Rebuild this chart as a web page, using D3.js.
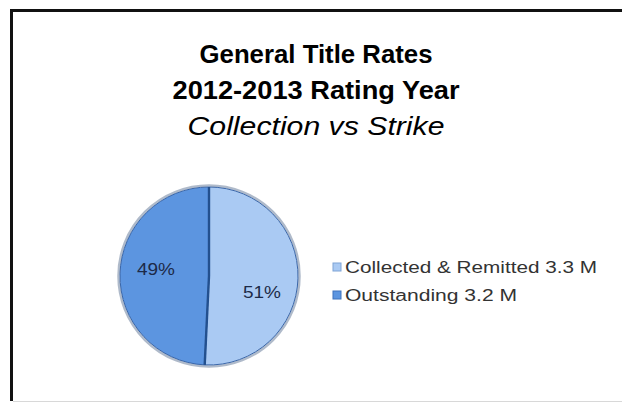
<!DOCTYPE html>
<html>
<head>
<meta charset="utf-8">
<script src="https://cdn.jsdelivr.net/npm/d3@7"></script>
<style>
  html, body { margin: 0; padding: 0; background: #fff; }
  svg { display: block; }
</style>
</head>
<body>
<svg id="chart" width="622" height="405"></svg>
<script>
// Rating-year collection figures (millions)
const categories = ["Collected & Remitted", "Outstanding"];
const amounts = [3.3, 3.2];
const amountLabels = ["3.3 M", "3.2 M"];
const titleLines = ["General Title Rates", "2012-2013 Rating Year"];
const subtitle = "Collection vs Strike";

const FONT = "Liberation Sans, Arial, sans-serif";
const svg = d3.select("#chart");
const W = 622, H = 405;

// frame
svg.append("rect").attr("x", 0).attr("y", 0).attr("width", W).attr("height", H).attr("fill", "#fff");
svg.append("path")
  .attr("d", `M11.5,${H - 4} V10.5 H${W + 2}`)
  .attr("fill", "none").attr("stroke", "#111").attr("stroke-width", 3);
svg.append("line")
  .attr("x1", 13).attr("x2", W).attr("y1", 401.5).attr("y2", 401.5)
  .attr("stroke", "#d8d8d8").attr("stroke-width", 1);

// titles (wide-set lettering)
const title = svg.append("g").attr("font-family", FONT)
  .attr("text-anchor", "middle").attr("fill", "#000");
const titleWidths = [233, 287];
title.selectAll("text.t").data(titleLines).join("text")
  .attr("class", "t")
  .attr("x", 316).attr("y", (d, i) => 63 + i * 36)
  .attr("font-size", 25.5).attr("font-weight", "bold")
  .attr("textLength", (d, i) => titleWidths[i]).attr("lengthAdjust", "spacingAndGlyphs")
  .text(d => d);
title.append("text").attr("x", 316).attr("y", 135)
  .attr("font-size", 25.5).attr("font-style", "italic")
  .attr("textLength", 257).attr("lengthAdjust", "spacingAndGlyphs")
  .text(subtitle);

// pie
const cx = 209, cy = 276, r = 89;
const colors = d3.scaleOrdinal().domain(categories).range(["#aacaf3", "#5c95e0"]);
const edgeColors = d3.scaleOrdinal().domain(categories).range(["#7ea4d6", "#3f73bd"]);

const pie = d3.pie().sort(null).value(d => d.v);
const data = categories.map((c, i) => ({ c, v: amounts[i] }));
const arcs = pie(data);
const arc = d3.arc().innerRadius(0).outerRadius(r);
const total = d3.sum(amounts);

const pg = svg.append("g").attr("transform", `translate(${cx},${cy})`);
pg.append("circle").attr("r", r + 1.5).attr("fill", "none")
  .attr("stroke", "#5f7696").attr("stroke-opacity", 0.5).attr("stroke-width", 2.5);
pg.selectAll("path.slice").data(arcs).join("path")
  .attr("class", "slice")
  .attr("d", arc)
  .attr("fill", d => colors(d.data.c))
  .attr("stroke", "#3a66a8").attr("stroke-width", 1);

// dark divider lines along slice boundaries
pg.selectAll("line.div").data(arcs).join("line")
  .attr("class", "div")
  .attr("x1", 0).attr("y1", 0)
  .attr("x2", d => r * Math.sin(d.startAngle))
  .attr("y2", d => -r * Math.cos(d.startAngle))
  .attr("stroke", "#23508e").attr("stroke-width", 2.4);

// percentage labels
const labelPos = [[53, 16], [-53, -7]];
pg.selectAll("text.pct").data(arcs).join("text")
  .attr("class", "pct")
  .attr("x", (d, i) => labelPos[i][0])
  .attr("y", (d, i) => labelPos[i][1])
  .attr("text-anchor", "middle").attr("dominant-baseline", "central")
  .attr("font-family", FONT)
  .attr("font-size", 16).attr("fill", "#1c2a48")
  .attr("textLength", 38).attr("lengthAdjust", "spacingAndGlyphs")
  .text(d => Math.round(d.data.v / total * 100) + "%");

// legend
const legendWidths = [252, 172];
const lg = svg.append("g").attr("transform", "translate(333,267)");
const rows = lg.selectAll("g").data(categories).join("g")
  .attr("transform", (d, i) => `translate(0,${i * 28})`);
rows.append("rect").attr("x", 0).attr("y", -4).attr("width", 8).attr("height", 8)
  .attr("fill", d => colors(d)).attr("stroke", d => edgeColors(d)).attr("stroke-width", 1);
rows.append("text").attr("x", 12).attr("y", 0).attr("dominant-baseline", "central")
  .attr("font-family", FONT)
  .attr("font-size", 16).attr("fill", "#333")
  .attr("textLength", (d, i) => legendWidths[i]).attr("lengthAdjust", "spacingAndGlyphs")
  .text((d, i) => `${d} ${amountLabels[i]}`);
</script>
</body>
</html>
